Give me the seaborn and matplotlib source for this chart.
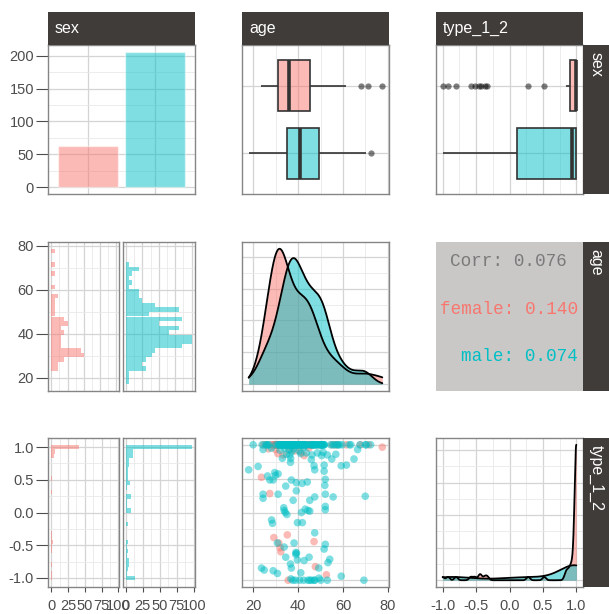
import numpy as np
import pandas as pd
import matplotlib
matplotlib.use('Agg')
from matplotlib import pyplot as plt
from matplotlib.ticker import MultipleLocator, MaxNLocator, AutoMinorLocator, FormatStrFormatter
import seaborn as sns

sns.set_style('white')
plt.rcParams['font.family'] = ['Liberation Sans Narrow', 'Liberation Sans', 'DejaVu Sans']
plt.rcParams['axes.unicode_minus'] = False

sexes = ['female', 'male']
colors = ['#F8766D', '#00BFC4']
variables = ['sex', 'age', 'type_1_2']

# female respondents below the top row of the scatter (age, type_1_2)
female_age_spread = [23.7, 27.4, 33.3, 41.2, 77.5, 29.2, 35.2, 31.4, 32.0, 32.3, 47.1,
                     47.7, 52.6, 35.6, 30.0, 44.8, 38.6, 26.8, 36.0, 42.7, 31.0]
female_type_spread = [0.52, 0.28, 0.85, 0.89, 0.965, -0.37, -0.33, -0.45, -0.52, -0.58, -0.43,
                      -0.80, -0.92, -1.0, 0.93, 0.95, 0.91, 0.94, 0.92, 0.84, 0.87]
# female respondents with type_1_2 = 1
female_age_top = [24.5, 25.8, 27.8, 28.6, 29.5, 29.8, 30.2, 30.4, 30.6, 30.8, 31.2, 29.6,
                  31.6, 32.5, 32.9, 33.1, 31.9, 34.0, 34.8, 37.0, 38.0, 39.2, 39.8, 40.5,
                  41.0, 42.0, 43.3, 43.9, 44.3, 45.2, 45.5, 46.0, 46.6, 48.8, 50.5, 55.0,
                  56.5, 57.5, 61.5, 67.8, 71.3]

# male respondents below the top row of the scatter (age, type_1_2)
male_age_spread = [24.4, 28.1, 36.3, 36.7, 36.6, 43.7, 45.9, 47.1, 51.6, 53.0, 59.2, 61.5,
                   64.9, 66.5, 18.0, 22.2, 26.4, 27.4, 28.9, 29.6, 31.1, 29.9, 34.5, 37.0,
                   39.2, 41.8, 44.1, 39.2, 31.1, 24.4, 24.4, 37.8, 47.4, 45.2, 52.1, 51.9,
                   52.1, 55.6, 52.1, 47.4, 51.6, 69.9, 44.4, 33.6, 33.8, 34.3, 45.2, 35.0,
                   41.5, 52.1, 28.2, 28.6, 39.7, 41.9, 47.4, 30.8, 38.2, 33.8, 52.1, 51.6,
                   39.0, 39.3, 39.7, 34.5, 44.9, 42.7, 53.3, 54.1, 36.6, 37.0, 49.2, 23.7,
                   24.9, 28.9, 30.8, 41.2, 59.2, 37.6, 38.8, 40.7, 42.5, 44.4, 45.2, 45.9,
                   47.4, 50.1, 53.0, 69.3,
                   32.0, 33.0, 34.0, 34.8, 36.0, 36.8, 37.2, 38.0, 39.0, 40.4, 41.2, 42.4,
                   43.2, 46.2, 47.2, 48.6, 49.3, 50.5, 51.1, 55.0, 56.8]
male_type_spread = [0.93, 0.95, 0.85, 0.80, 0.74, 0.88, 0.78, 0.69, 0.70, 0.85, 0.69, 0.70,
                    0.79, 0.93, 0.63, 0.68, 0.54, 0.48, 0.48, 0.59, 0.57, 0.55, 0.39, 0.48,
                    0.44, 0.43, 0.45, 0.32, 0.27, 0.27, 0.21, 0.18, 0.23, 0.18, 0.49, 0.40,
                    0.27, 0.23, 0.09, 0.63, 0.61, 0.24, 0.03, 0.07, 0.03, 0.00, 0.02, -0.03,
                    0.00, 0.04, -0.11, -0.16, -0.15, -0.15, -0.30, -0.45, -0.45, -0.51, -0.47, -0.54,
                    -0.59, -0.60, -0.70, -0.66, -0.66, -0.71, -0.74, -0.69, -0.76, -0.82, -0.82, -0.82,
                    -0.85, -0.86, -0.90, -0.89, -0.94, -1.0, -1.0, -1.0, -1.0, -1.0, -1.0, -1.0,
                    -1.0, -1.0, -1.0, -1.0,
                    0.92, 0.80, 0.95, 0.86, 0.93, -0.98, 0.90, 0.94, -0.62, 0.91, 0.87, 0.96,
                    0.05, 0.85, -1.0, 0.88, -0.97, 0.84, 0.89, 0.79, 0.86]
# male respondents with type_1_2 = 1
male_age_top = [20.0, 24.0, 25.5, 26.0, 26.5, 27.0, 30.0, 31.0,
                31.5, 31.6, 31.8, 32.3, 32.6, 32.8, 33.2,
                33.5, 33.8, 33.9, 34.2, 34.4, 34.5, 35.0, 35.2,
                35.5, 35.6, 35.8, 36.1, 36.2, 36.4, 36.6, 36.9, 37.0, 37.3, 37.4,
                37.6, 37.8, 37.9, 38.2, 38.4, 38.5, 38.6, 38.8, 39.2, 39.4,
                39.7, 40.0, 40.3, 40.6, 40.9, 41.5,
                41.7, 41.9, 42.0, 42.2, 42.5, 42.6, 42.8, 43.0, 43.4, 43.6,
                44.0, 45.0,
                45.8, 46.0, 46.4, 46.5, 46.8, 47.0, 47.5, 47.7,
                48.0, 48.3, 49.0, 49.6,
                49.9, 50.1, 50.3, 50.4, 50.7, 50.9, 51.0, 51.3, 51.5, 51.7,
                54.5, 55.5, 56.2, 57.3, 57.8, 58.5, 59.6, 62.8, 63.5, 67.5,
                70.0, 70.3, 72.3]

corr_all = 0.076
corr_by_sex = [0.140, 0.074]

f_age = female_age_spread + female_age_top
f_type = female_type_spread + [1.0] * len(female_age_top)
m_age = male_age_spread + male_age_top
m_type = male_type_spread + [1.0] * len(male_age_top)

df = pd.DataFrame({
    'sex': ['female'] * len(f_age) + ['male'] * len(m_age),
    'age': f_age + m_age,
    'type_1_2': f_type + m_type,
})

grid_major = '#d4d4d4'
grid_minor = '#e9e9e9'
border = '#858585'
tick_col = '#4d4d4d'
strip_col = '#403c39'
W, H = 609, 614

fig = plt.figure(figsize=(W / 100, H / 100), dpi=100)

col_x = [(48, 195), (242, 389), (436, 583)]
row_y = [(45, 194), (242, 391), (438, 587)]
facet_x = [(48, 119.5), (122.5, 195)]


def add_panel(x0, y0, x1, y1):
    return fig.add_axes([x0 / W, 1 - y1 / H, (x1 - x0) / W, (y1 - y0) / H])


def finish(ax, xstep=None, ystep=None):
    if xstep:
        ax.xaxis.set_major_locator(MultipleLocator(xstep))
        ax.xaxis.set_minor_locator(MultipleLocator(xstep / 2))
    if ystep:
        ax.yaxis.set_major_locator(MultipleLocator(ystep))
        ax.yaxis.set_minor_locator(MultipleLocator(ystep / 2))
    ax.grid(True, which='major', color=grid_major, lw=0.9)
    ax.grid(True, which='minor', color=grid_minor, lw=0.6)
    ax.set_axisbelow(True)
    for s in ax.spines.values():
        s.set_visible(True)
        s.set_color(border)
        s.set_linewidth(1.0)
    ax.tick_params(which='both', left=False, bottom=False, top=False, right=False,
                   labelleft=False, labelbottom=False)
    ax.set_xlabel('')
    ax.set_ylabel('')


def show_y(ax):
    ax.tick_params(axis='y', which='major', left=True, labelleft=True, length=9, width=0.8,
                   color=tick_col, labelcolor=tick_col, labelsize=10.5, pad=1)


def show_x(ax):
    ax.tick_params(axis='x', which='major', bottom=True, labelbottom=True, length=3.5, width=0.8,
                   color=tick_col, labelcolor=tick_col, labelsize=10.5, pad=5)


def expand(lo, hi, mult=0.05):
    span = hi - lo
    return lo - mult * span, hi + mult * span


def bin_edges(v, bins=30):
    lo, hi = min(v), max(v)
    w = (hi - lo) / (bins - 1)
    return lo - w / 2 + w * np.arange(bins + 1)


def nrd0(v):
    v = np.asarray(v)
    iqr = np.subtract(*np.percentile(v, [75, 25]))
    return 0.9 * min(v.std(ddof=1), iqr / 1.34) * len(v) ** -0.2


def density(ax, var):
    lo, hi = df[var].min(), df[var].max()
    for s, c in zip(sexes, colors):
        v = df.loc[df.sex == s, var].to_numpy()
        kw = dict(x=v, bw_method=nrd0(v) / v.std(ddof=1), cut=50, clip=(lo, hi), gridsize=512, ax=ax)
        sns.kdeplot(fill=True, color=c, alpha=0.5, linewidth=0, **kw)
        sns.kdeplot(color='black', linewidth=1.3, **kw)
    ymax = max(l.get_ydata().max() for l in ax.lines)
    ax.set_ylim(-0.05 * ymax, 1.05 * ymax)
    ax.set_xlim(*expand(lo, hi))


def boxes(ax, var):
    sns.boxplot(data=df, x=var, y='sex', hue='sex', order=sexes, hue_order=sexes, palette=colors,
                width=0.75, saturation=1, showcaps=False, linecolor='#333333', linewidth=1.2,
                fliersize=4.5, flierprops=dict(marker='o', markerfacecolor='black',
                                              markeredgecolor='none', alpha=0.5),
                medianprops=dict(linewidth=2.6), legend=False, ax=ax)
    for p in ax.patches:
        r, g, b, _ = p.get_facecolor()
        p.set_facecolor((r, g, b, 0.5))
    ax.set_ylim(1.6, -0.6)
    ax.set_xlim(*expand(df[var].min(), df[var].max()))


def facet_hist(row, var):
    edges = bin_edges(df[var])
    top = max(np.histogram(df.loc[df.sex == s, var], bins=edges)[0].max() for s in sexes)
    axes = []
    for (x0, x1), s, c in zip(facet_x, sexes, colors):
        ax = add_panel(x0, row_y[row][0], x1, row_y[row][1])
        sns.histplot(y=df.loc[df.sex == s, var], bins=edges, color=c, alpha=0.5,
                     edgecolor='none', linewidth=0, ax=ax)
        ax.set_xlim(-0.05 * top, 1.05 * top)
        ax.set_ylim(*expand(edges[0], edges[-1]))
        axes.append(ax)
    return axes


# row 1 -------------------------------------------------------------
ax = add_panel(col_x[0][0], row_y[0][0], col_x[0][1], row_y[0][1])
sns.countplot(data=df, x='sex', hue='sex', order=sexes, hue_order=sexes, palette=colors,
              width=0.9, saturation=1, alpha=0.5, legend=False, ax=ax)
ax.set_xlim(-0.6, 1.6)
ax.set_ylim(*expand(0, df.sex.value_counts().max()))
finish(ax, ystep=50)
show_y(ax)

ax = add_panel(col_x[1][0], row_y[0][0], col_x[1][1], row_y[0][1])
boxes(ax, 'age')
finish(ax, xstep=20)

ax = add_panel(col_x[2][0], row_y[0][0], col_x[2][1], row_y[0][1])
boxes(ax, 'type_1_2')
finish(ax, xstep=0.5)

# row 2 -------------------------------------------------------------
axes = facet_hist(1, 'age')
for ax in axes:
    finish(ax, xstep=5, ystep=20)
show_y(axes[0])

ax = add_panel(col_x[1][0], row_y[1][0], col_x[1][1], row_y[1][1])
density(ax, 'age')
finish(ax, xstep=20)
ax.yaxis.set_major_locator(MaxNLocator(5, steps=[1, 2, 2.5, 5, 10]))
ax.yaxis.set_minor_locator(AutoMinorLocator(2))

ax = add_panel(col_x[2][0], row_y[1][0], col_x[2][1], row_y[1][1])
ax.set_facecolor('#c9c8c7')
ax.set_xticks([])
ax.set_yticks([])
for s in ax.spines.values():
    s.set_visible(False)
mono = dict(family='Liberation Mono', fontsize=12.7, va='center', transform=ax.transAxes)
ax.text(0.493, 0.868, f'Corr: {corr_all:.3f}', ha='center', color='#7a7a7a', **mono)
for s, c, r, yy in zip(sexes, colors, corr_by_sex, [0.548, 0.23]):
    ax.text(0.966, yy, f'{s}: {r:.3f}', ha='right', color=c, **mono)

# row 3 -------------------------------------------------------------
axes = facet_hist(2, 'type_1_2')
for ax in axes:
    finish(ax, xstep=25, ystep=0.5)
    show_x(ax)
    ax.yaxis.set_major_formatter(FormatStrFormatter('%.1f'))
show_y(axes[0])

ax = add_panel(col_x[1][0], row_y[2][0], col_x[1][1], row_y[2][1])
sns.scatterplot(data=df, x='age', y='type_1_2', hue='sex', hue_order=sexes, palette=colors,
                alpha=0.5, s=30, linewidth=0, legend=False, ax=ax)
ax.set_xlim(*expand(df.age.min(), df.age.max()))
ax.set_ylim(*expand(df.type_1_2.min(), df.type_1_2.max()))
finish(ax, xstep=20, ystep=0.5)
show_x(ax)

ax = add_panel(col_x[2][0], row_y[2][0], col_x[2][1], row_y[2][1])
density(ax, 'type_1_2')
finish(ax, xstep=0.5)
ax.yaxis.set_major_locator(MaxNLocator(5, steps=[1, 2, 2.5, 5, 10]))
ax.yaxis.set_minor_locator(AutoMinorLocator(2))
ax.xaxis.set_major_formatter(FormatStrFormatter('%.1f'))
show_x(ax)

# strips ------------------------------------------------------------
for (x0, x1), name in zip(col_x, variables):
    sa = add_panel(x0, 12, x1, 45)
    sa.set_facecolor(strip_col)
    sa.set_xticks([])
    sa.set_yticks([])
    for s in sa.spines.values():
        s.set_visible(False)
    sa.text(7 / (x1 - x0), 0.5, name, color='white', family='Liberation Sans', fontsize=11.5,
            ha='left', va='center', transform=sa.transAxes)

for (y0, y1), name in zip(row_y, variables):
    sa = add_panel(583, y0, 609, y1)
    sa.set_facecolor(strip_col)
    sa.set_xticks([])
    sa.set_yticks([])
    for s in sa.spines.values():
        s.set_visible(False)
    sa.text(0.5, 1 - 7 / (y1 - y0), name, color='white', family='Liberation Sans', fontsize=11.5,
            rotation=-90, ha='center', va='top', transform=sa.transAxes)

plt.savefig('out.png', dpi=100)
print('finished')
